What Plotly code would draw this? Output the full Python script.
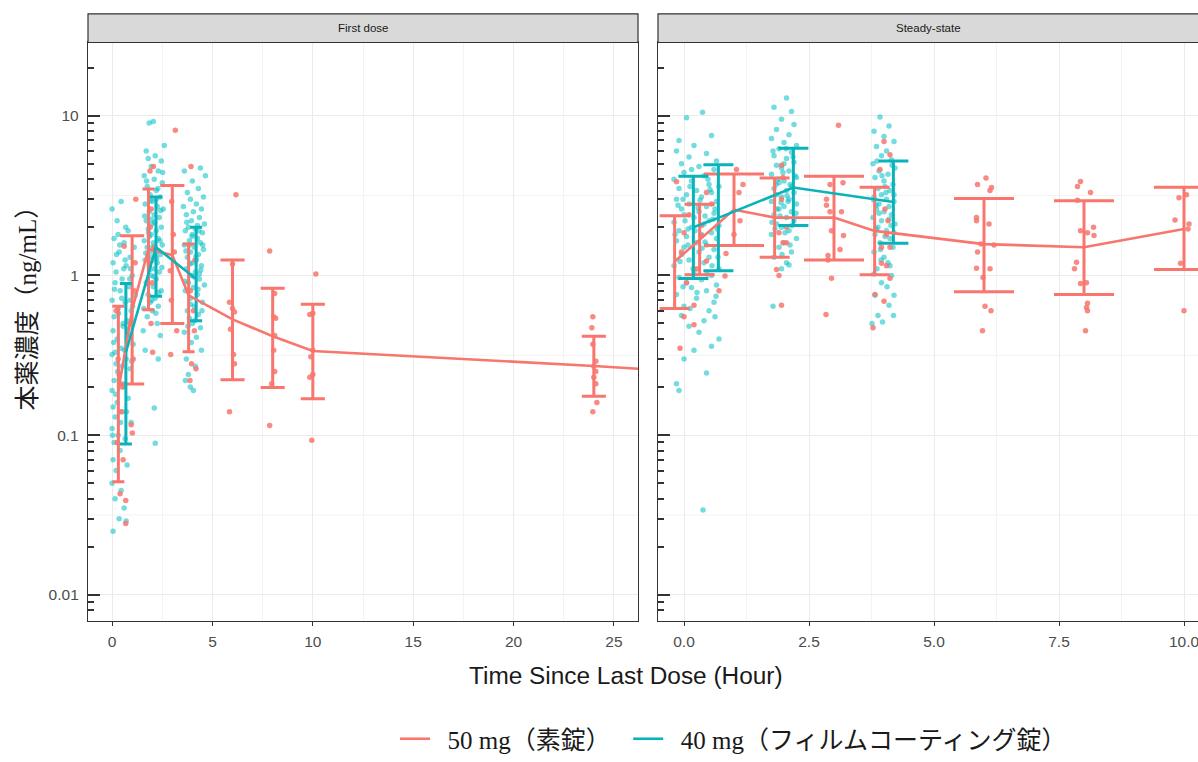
import math
import plotly.graph_objects as go

# ---------------- observed concentrations: (time since last dose [h], ng/mL) ----------------
# First dose, 40 mg film-coated tablet
fd_teal_early = [
    (0.00, 2.6), (0.45, 2.9), (0.25, 2.2), (0.80, 1.9), (0.10, 1.7), (0.60, 1.6), (1.10, 1.5), (0.35, 1.4), (0.90, 1.3), (0.05, 1.2),
    (0.70, 1.15), (0.20, 1.05), (1.00, 1.0), (0.50, 0.95), (0.15, 0.9), (0.85, 0.85), (0.40, 0.8), (1.15, 0.75), (0.00, 0.7), (0.65, 0.68),
    (0.30, 0.62), (0.95, 0.6), (0.10, 0.55), (0.75, 0.52), (0.55, 0.48), (0.05, 0.45), (0.85, 0.42), (0.25, 0.4), (1.05, 0.37), (0.45, 0.35),
    (0.00, 0.32), (0.70, 0.3), (0.20, 0.28), (0.90, 0.26), (0.35, 0.24), (0.10, 0.22), (0.60, 0.2), (0.00, 0.19), (0.80, 0.17), (0.25, 0.16),
    (0.05, 0.15), (0.50, 0.14), (0.15, 0.13), (0.95, 0.12), (0.00, 0.11), (0.30, 0.1), (0.65, 0.095), (0.10, 0.09), (0.40, 0.08), (0.05, 0.07),
    (0.75, 0.065), (0.20, 0.06), (0.00, 0.05), (0.45, 0.045), (0.15, 0.04), (0.60, 0.035), (0.35, 0.03), (0.70, 0.029), (0.05, 0.025), (0.55, 0.5),
    (0.65, 1.25), (0.30, 1.8), (0.90, 0.7), (0.15, 0.33), (0.50, 0.27),
    (0.22, 1.35), (0.58, 1.1), (0.88, 0.95), (0.12, 0.82), (0.48, 0.72), (1.02, 0.64), (0.32, 0.58), (0.78, 0.46), (0.08, 0.38), (0.62, 0.34),
    (0.98, 0.29), (0.28, 0.25), (0.52, 0.21), (0.18, 0.18), (0.72, 0.14), (0.42, 0.12), (0.02, 0.1), (0.38, 1.55), (0.68, 2.0), (0.92, 1.1),
]
fd_teal_2h = [
    (1.85, 9.0), (2.05, 9.2), (2.60, 6.5), (1.70, 6.0), (1.80, 5.4), (2.15, 5.6), (2.45, 5.2), (1.95, 4.8), (2.30, 4.5), (1.60, 4.2),
    (2.10, 4.0), (2.50, 3.8), (1.75, 3.6), (2.20, 3.4), (1.90, 3.2), (2.40, 3.1), (2.00, 2.9), (1.65, 2.8), (2.25, 2.7), (2.55, 2.6),
    (1.85, 2.5), (2.10, 2.4), (2.35, 2.3), (1.70, 2.2), (2.00, 2.1), (2.45, 2.0), (1.80, 1.95), (2.20, 1.9), (1.95, 1.8), (2.30, 1.7),
    (1.60, 1.65), (2.05, 1.6), (2.50, 1.55), (1.75, 1.5), (2.15, 1.45), (1.90, 1.4), (2.40, 1.35), (2.00, 1.3), (1.65, 1.25), (2.25, 1.2),
    (1.85, 1.15), (2.10, 1.1), (2.35, 1.05), (1.95, 1.0), (2.20, 0.95), (1.70, 0.9), (2.05, 0.85), (2.45, 0.8), (1.80, 0.76), (2.15, 0.72),
    (1.90, 0.68), (2.30, 0.64), (2.00, 0.6), (1.75, 0.55), (2.25, 0.5), (1.55, 0.45), (2.40, 0.42), (1.65, 0.34), (2.30, 0.3), (2.10, 0.148),
    (2.15, 0.089), (1.95, 2.25), (2.20, 3.0), (1.85, 1.75), (2.05, 1.25),
    (1.72, 3.9), (2.28, 3.5), (1.92, 2.95), (2.42, 2.55), (1.62, 2.35), (2.12, 2.15), (1.82, 1.85), (2.38, 1.65), (2.02, 1.5), (1.68, 1.38),
    (2.22, 1.28), (1.88, 1.08), (2.48, 1.12), (2.08, 0.98), (1.78, 0.88), (2.32, 0.78), (1.98, 0.7), (2.18, 0.58), (1.58, 0.62), (2.52, 4.4),
]
fd_teal_4h = [
    (4.40, 4.7), (4.65, 4.2), (3.60, 4.5), (4.00, 3.9), (4.30, 3.5), (3.75, 3.3), (4.55, 3.1), (3.90, 3.0), (4.20, 2.8), (3.55, 2.7),
    (4.45, 2.6), (4.05, 2.5), (3.70, 2.4), (4.35, 2.3), (3.95, 2.2), (4.60, 2.1), (3.80, 2.0), (4.15, 1.95), (3.65, 1.9), (4.50, 1.85),
    (4.00, 1.8), (4.25, 1.7), (3.85, 1.65), (4.40, 1.6), (3.60, 1.55), (4.10, 1.5), (4.55, 1.45), (3.90, 1.4), (4.30, 1.35), (3.75, 1.3),
    (4.20, 1.25), (4.00, 1.2), (4.45, 1.15), (3.70, 1.1), (4.15, 1.05), (3.95, 1.0), (4.35, 0.95), (3.80, 0.9), (4.60, 0.87), (4.05, 0.84),
    (3.65, 0.8), (4.25, 0.76), (3.90, 0.72), (4.50, 0.68), (4.10, 0.64), (3.75, 0.6), (4.30, 0.57), (3.85, 0.54), (4.00, 0.5), (4.40, 0.47),
    (3.60, 0.44), (4.20, 0.41), (3.95, 0.38), (4.45, 0.34), (3.70, 0.3), (4.15, 0.27), (3.80, 0.24), (3.65, 0.22), (4.05, 0.19), (3.90, 0.2),
    (4.25, 2.05), (3.85, 1.55), (4.35, 1.02),
    (3.72, 2.15), (4.32, 1.9), (3.98, 1.75), (4.52, 1.55), (3.68, 1.42), (4.18, 1.32), (3.88, 1.18), (4.42, 1.08), (4.08, 0.98), (3.62, 0.92),
    (4.28, 0.82), (3.92, 0.66), (4.48, 0.6), (4.12, 0.52), (3.78, 0.48),
]
# First dose, 50 mg plain tablet
fd_red_obs = [
    (0.20, 0.6), (0.45, 0.14), (0.40, 0.043), (0.68, 0.039), (0.68, 0.028), (0.30, 0.3), (0.50, 0.2), (0.25, 0.09), (0.55, 0.07),
    (1.18, 3.0), (0.60, 1.52), (0.95, 0.116), (1.01, 0.103), (1.10, 0.8), (0.90, 0.5), (1.05, 0.3), (1.15, 1.2),
    (2.06, 4.8), (1.89, 4.5), (1.94, 0.5), (2.02, 0.33), (1.90, 2.0), (2.10, 1.5), (1.85, 1.2), (2.00, 0.9), (1.95, 2.6),
    (3.15, 8.1), (2.97, 2.9), (2.90, 1.07), (3.22, 0.45), (2.92, 0.32), (3.05, 1.8), (3.10, 1.4), (2.95, 0.7),
    (3.93, 4.8), (4.13, 1.25), (3.96, 0.28), (4.18, 0.26), (3.88, 0.22), (4.05, 0.6), (3.90, 0.8), (4.10, 0.45),
    (6.17, 3.2), (6.00, 1.18), (5.85, 0.68), (6.00, 0.62), (6.10, 0.59), (5.90, 0.46), (6.05, 0.32), (6.10, 0.28), (5.85, 0.14),
    (7.85, 1.42), (8.10, 0.77), (8.15, 0.54), (8.05, 0.55), (8.10, 0.42), (8.05, 0.34), (8.10, 0.25), (7.95, 0.21), (7.85, 0.115),
    (10.15, 1.02), (9.85, 0.57), (10.00, 0.58), (10.00, 0.34), (9.90, 0.31), (9.85, 0.23), (10.00, 0.24), (9.95, 0.093),
    (23.95, 0.55), (23.90, 0.47), (23.95, 0.37), (24.10, 0.29), (24.00, 0.27), (24.10, 0.25), (24.00, 0.23), (24.10, 0.21), (24.15, 0.16), (23.95, 0.14),
]
# Steady state, 40 mg film-coated tablet
ss_teal_early = [
    (0.37, 10.5), (0.05, 9.7), (-0.10, 7.0), (0.55, 7.5), (0.20, 6.5), (-0.15, 6.0), (0.45, 5.8), (0.10, 5.5), (0.65, 5.2), (-0.05, 5.0),
    (0.30, 4.8), (0.60, 4.6), (0.00, 4.4), (0.40, 4.2), (-0.20, 4.0), (0.15, 3.9), (0.50, 3.7), (0.70, 3.6), (-0.10, 3.5), (0.25, 3.4),
    (0.55, 3.3), (0.05, 3.2), (0.35, 3.1), (-0.15, 3.0), (0.65, 2.9), (0.10, 2.8), (0.45, 2.7), (-0.05, 2.6), (0.30, 2.5), (0.60, 2.45),
    (0.00, 2.4), (0.20, 2.3), (0.50, 2.2), (-0.20, 2.15), (0.40, 2.1), (0.70, 2.05), (0.15, 2.0), (-0.10, 1.9), (0.55, 1.85), (0.35, 1.8),
    (0.05, 1.75), (0.65, 1.7), (-0.15, 1.65), (0.25, 1.6), (0.45, 1.55), (0.00, 1.5), (0.60, 1.45), (0.30, 1.4), (-0.05, 1.35), (0.50, 1.3),
    (0.10, 1.25), (0.40, 1.2), (-0.20, 1.15), (0.70, 1.1), (0.20, 1.05), (0.55, 1.0), (-0.10, 0.97), (0.35, 0.94), (0.05, 0.9), (0.65, 0.87),
    (0.15, 0.84), (0.45, 0.8), (-0.15, 0.76), (0.25, 0.72), (0.60, 0.68), (0.00, 0.64), (0.50, 0.6), (-0.05, 0.56), (0.40, 0.52), (0.10, 0.48),
    (0.30, 0.44), (0.70, 0.4), (0.55, 0.36), (0.20, 0.34), (0.45, 0.245), (-0.15, 0.21), (-0.10, 0.19), (0.38, 0.034), (0.00, 0.3), (0.62, 0.55),
    (0.15, 4.6), (0.48, 4.0), (-0.02, 3.0), (0.28, 2.65), (0.58, 2.25), (0.08, 1.95), (0.42, 1.62), (0.68, 1.3),
    (0.12, 3.6), (0.52, 3.45), (-0.12, 2.75), (0.32, 2.95), (0.62, 2.6), (0.02, 2.2), (0.42, 2.35), (-0.18, 1.8), (0.22, 1.9), (0.66, 1.95),
    (0.08, 1.55), (0.36, 1.48), (0.56, 1.15), (-0.08, 1.22), (0.18, 1.1), (0.46, 1.02), (-0.02, 0.85), (0.26, 0.78), (0.64, 0.74), (0.12, 0.62),
]
ss_teal_2h = [
    (2.05, 12.9), (1.80, 11.3), (2.15, 10.6), (1.95, 9.5), (2.20, 8.8), (1.85, 8.2), (2.10, 7.6), (1.75, 7.2), (2.00, 6.8), (2.25, 6.5),
    (1.90, 6.2), (2.15, 5.9), (1.80, 5.6), (2.05, 5.4), (2.20, 5.1), (1.85, 4.9), (1.95, 4.7), (2.10, 4.5), (1.75, 4.3), (2.25, 4.1),
    (2.00, 3.9), (1.90, 3.8), (2.15, 3.6), (1.80, 3.5), (2.05, 3.4), (2.20, 3.3), (1.85, 3.2), (1.95, 3.1), (2.10, 3.0), (1.75, 2.9),
    (2.25, 2.8), (2.00, 2.7), (1.90, 2.6), (2.15, 2.5), (1.80, 2.4), (2.05, 2.3), (2.20, 2.2), (1.85, 2.1), (1.95, 2.0), (2.10, 1.9),
    (1.75, 1.8), (2.25, 1.7), (2.00, 1.6), (1.90, 1.5), (2.15, 1.4), (1.80, 1.3), (2.05, 1.2), (1.95, 1.1), (2.10, 1.16), (1.78, 0.64),
    (2.00, 5.0), (1.88, 4.0), (2.12, 3.7), (1.92, 2.35), (2.08, 2.9), (1.82, 1.95),
    (1.78, 6.0), (2.18, 5.5), (1.98, 4.4), (2.22, 4.2), (1.84, 3.7), (2.06, 3.15), (1.94, 2.85), (2.16, 2.05), (1.86, 2.6), (2.02, 1.85),
    (2.24, 2.45), (1.76, 2.15), (2.12, 1.55), (1.96, 1.35), (2.04, 6.2),
]
ss_teal_4h = [
    (3.92, 9.8), (4.10, 8.6), (3.80, 8.0), (4.00, 7.4), (4.20, 6.9), (3.85, 6.4), (4.05, 6.0), (3.95, 5.6), (4.15, 5.3), (3.78, 5.0),
    (4.22, 4.7), (3.90, 4.5), (4.08, 4.3), (3.82, 4.1), (4.00, 3.9), (4.18, 3.7), (3.88, 3.5), (4.12, 3.4), (3.95, 3.2), (3.80, 3.1),
    (4.05, 3.0), (4.20, 2.9), (3.90, 2.8), (4.10, 2.7), (3.85, 2.6), (4.00, 2.5), (4.15, 2.4), (3.78, 2.3), (3.95, 2.2), (4.22, 2.1),
    (3.88, 2.0), (4.05, 1.9), (3.82, 1.8), (4.12, 1.7), (3.92, 1.6), (4.18, 1.5), (3.80, 1.4), (4.00, 1.3), (4.08, 1.2), (3.86, 1.1),
    (4.15, 1.0), (3.95, 0.9), (4.20, 0.75), (3.82, 0.75), (4.10, 0.65), (3.88, 0.56), (4.19, 0.56), (3.76, 0.5), (3.97, 0.51), (4.02, 3.6),
    (3.84, 2.75), (4.14, 2.05), (3.93, 1.45),
    (3.86, 5.2), (4.16, 4.9), (3.96, 4.2), (4.04, 3.3), (3.80, 2.95), (4.20, 3.2), (3.90, 2.45), (4.10, 2.25), (3.84, 1.95), (4.02, 1.75),
    (4.20, 1.85), (3.94, 1.25), (4.12, 1.15), (3.80, 1.02), (4.06, 0.85),
]
# Steady state, 50 mg plain tablet
ss_red_obs = [
    (-0.15, 3.85), (0.45, 3.3), (0.35, 2.05), (0.35, 1.77), (-0.05, 1.4), (0.00, 1.85), (0.45, 1.23), (0.05, 0.9), (0.00, 0.55),
    (0.20, 0.49), (0.20, 0.65), (0.70, 0.8), (0.82, 0.99), (-0.08, 0.35), (0.10, 2.4), (0.55, 2.8), (0.25, 1.1),
    (1.05, 4.6), (1.18, 3.7), (1.10, 3.3), (1.12, 2.2), (0.84, 1.37), (1.00, 1.8),
    (1.95, 4.9), (1.90, 1.85), (1.98, 1.6), (2.05, 1.6), (1.85, 1.09), (1.90, 1.0), (1.95, 0.65), (2.05, 2.0), (1.95, 3.0), (1.98, 4.1),
    (3.09, 8.7), (2.92, 3.7), (3.18, 3.8), (2.85, 3.0), (2.85, 2.75), (2.92, 2.5), (3.15, 2.5), (3.19, 1.78), (2.95, 1.9), (3.12, 1.45),
    (2.88, 1.33), (2.88, 1.25), (2.95, 0.96), (2.84, 0.57),
    (4.00, 6.9), (4.12, 5.7), (3.92, 4.6), (4.02, 2.6), (4.08, 2.2), (4.05, 1.8), (3.95, 1.5), (4.12, 1.5), (3.95, 1.19), (4.05, 1.15),
    (4.12, 0.96), (3.82, 0.76), (4.00, 0.69), (3.78, 0.47),
    (6.04, 4.07), (5.87, 3.7), (6.15, 3.55), (6.12, 3.4), (5.85, 2.3), (5.85, 2.2), (6.10, 2.1), (5.94, 1.57), (6.20, 1.55), (5.87, 1.4),
    (5.85, 1.11), (6.12, 1.1), (5.98, 0.97), (6.02, 0.64), (6.14, 0.6), (5.97, 0.45),
    (7.93, 3.87), (7.87, 3.6), (8.13, 3.3), (7.87, 2.95), (7.93, 1.9), (8.19, 2.0), (8.20, 1.78), (8.07, 1.85), (7.85, 1.21), (7.81, 1.1),
    (7.93, 0.89), (8.05, 0.9), (8.07, 0.67), (8.05, 0.63), (8.07, 0.6), (8.03, 0.45),
    (9.90, 3.06), (10.05, 3.2), (9.82, 2.22), (10.10, 2.1), (10.08, 1.95), (9.93, 1.19), (10.00, 0.6),
]

# ---------------- summary statistics at nominal sampling times ----------------
fd_red_time = [0.5, 1, 2, 3, 4, 6, 8, 10, 24, 48]
fd_red_mean = [0.19, 0.61, 1.46, 1.34, 0.75, 0.53, 0.416, 0.336, 0.271, 0.175]
fd_red_lo = [0.051, 0.209, 0.61, 0.50, 0.333, 0.222, 0.199, 0.169, 0.175, 0.10]
fd_red_hi = [0.64, 1.77, 3.48, 3.65, 1.57, 1.25, 0.83, 0.66, 0.416, 0.30]

fd_teal_time = [0.5, 2, 4]
fd_teal_mean = [0.33, 1.50, 0.95]
fd_teal_lo = [0.088, 0.74, 0.52]
fd_teal_hi = [0.89, 3.09, 2.0]

ss_red_time = [0, 0.5, 1, 2, 3, 4, 6, 8, 10]
ss_red_mean = [1.22, 1.68, 2.58, 2.30, 2.30, 1.90, 1.57, 1.50, 1.95]
ss_red_lo = [0.62, 1.01, 1.54, 1.30, 1.25, 1.01, 0.79, 0.76, 1.09]
ss_red_hi = [2.36, 2.79, 4.31, 4.07, 4.17, 3.56, 3.03, 2.93, 3.56]

ss_teal_time = [0, 0.5, 2, 4]
ss_teal_mean = [2.0, 2.29, 3.55, 2.88]
ss_teal_lo = [0.955, 1.07, 2.05, 1.59]
ss_teal_hi = [4.17, 4.92, 6.25, 5.21]

panel_titles = ["First dose", "Steady-state"]
x_ticks_fd = [0, 5, 10, 15, 20, 25]
x_ticks_ss = [0, 2.5, 5, 7.5, 10]
y_ticks = [0.01, 0.1, 1, 10]
name_red = "50 mg（素錠）"
name_teal = "40 mg（フィルムコーティング錠）"

# ---------------- styling / geometry ----------------
RED = "#F8766D"
TEAL = "#00BFC4"
TEAL_DARK = "#0AB3B9"
GRID = "#EBEBEB"
GRID_MINOR = "#F3F3F3"
FRAME = "#333333"
W, H = 1198, 762
L1, R1, L2, R2 = 88, 638, 658, 1198
TOP, BOT, STRIP_TOP = 43, 628, 14
X1_RANGE = [-1.2, 26.2]
X2_RANGE = [-0.52, 10.28]
Y_RANGE = [-2.161, 1.458]          # log10 units
DODGE = 0.1875                      # half of the group offset
CAP = 1.2                           # error-bar cap width (h)
SANS = "Liberation Sans, Arial, sans-serif"
SERIF = "Liberation Serif, Noto Sans CJK JP, serif"
NBSP = "\u00a0"


def pxx(v):
    return v / W


def pxy(v):
    return 1 - v / H


fig = go.Figure()

panels = [
    dict(xa="x", ya="y", xr=X1_RANGE, width=R1 - L1,
         red=(fd_red_obs, fd_red_time, fd_red_mean, fd_red_lo, fd_red_hi),
         teal=(fd_teal_early + fd_teal_2h + fd_teal_4h, fd_teal_time, fd_teal_mean, fd_teal_lo, fd_teal_hi)),
    dict(xa="x2", ya="y2", xr=X2_RANGE, width=R2 - L2,
         red=(ss_red_obs, ss_red_time, ss_red_mean, ss_red_lo, ss_red_hi),
         teal=(ss_teal_early + ss_teal_2h + ss_teal_4h, ss_teal_time, ss_teal_mean, ss_teal_lo, ss_teal_hi)),
]

for i, p in enumerate(panels):
    px_per_h = p["width"] / (p["xr"][1] - p["xr"][0])
    obs_r, t_r, m_r, lo_r, hi_r = p["red"]
    obs_t, t_t, m_t, lo_t, hi_t = p["teal"]

    # individual observations
    fig.add_trace(go.Scatter(
        x=[a for a, _ in obs_t], y=[b for _, b in obs_t], mode="markers",
        marker=dict(color=TEAL, size=5.5, opacity=0.55, line=dict(width=0)),
        xaxis=p["xa"], yaxis=p["ya"], showlegend=False, hoverinfo="skip"))
    fig.add_trace(go.Scatter(
        x=[a for a, _ in obs_r], y=[b for _, b in obs_r], mode="markers",
        marker=dict(color=RED, size=5.5, opacity=0.85, line=dict(width=0)),
        xaxis=p["xa"], yaxis=p["ya"], showlegend=False, hoverinfo="skip"))

    # dodged positions where both formulations were sampled
    xr_pos = [t - DODGE if t in t_t else t for t in t_r]
    xt_pos = [t + DODGE if t in t_r else t for t in t_t]

    groups = [
        (RED, xr_pos, m_r, lo_r, hi_r, [t in t_t for t in t_r]),
        (TEAL_DARK, xt_pos, m_t, lo_t, hi_t, [t in t_r for t in t_t]),
    ]
    for color, xs, ms, los, his, dodged in groups:
        for flag in (True, False):
            idx = [k for k in range(len(xs)) if dodged[k] == flag]
            if not idx:
                continue
            half_cap = (CAP / 2 if flag else CAP) * px_per_h / 2
            fig.add_trace(go.Scatter(
                x=[xs[k] for k in idx], y=[ms[k] for k in idx], mode="markers",
                marker=dict(size=1, color="rgba(0,0,0,0)"),
                error_y=dict(type="data", symmetric=False,
                             array=[his[k] - ms[k] for k in idx],
                             arrayminus=[ms[k] - los[k] for k in idx],
                             color=color, thickness=3, width=half_cap),
                xaxis=p["xa"], yaxis=p["ya"], showlegend=False, hoverinfo="skip"))

    # mean profiles
    fig.add_trace(go.Scatter(
        x=xr_pos, y=m_r, mode="lines", line=dict(color=RED, width=2.6),
        name=NBSP * 2 + name_red + NBSP * 2, legendgroup="red", legendrank=1, showlegend=(i == 0),
        xaxis=p["xa"], yaxis=p["ya"], hoverinfo="skip"))
    fig.add_trace(go.Scatter(
        x=xt_pos, y=m_t, mode="lines", line=dict(color=TEAL_DARK, width=2.6),
        name=NBSP * 2 + name_teal, legendgroup="teal", legendrank=2, showlegend=(i == 0),
        xaxis=p["xa"], yaxis=p["ya"], hoverinfo="skip"))

# half-decade grid lines (minor breaks of the log scale)
shapes = []
half_decades = [10 ** (d + 0.5) for d in range(-3, 2)]
for xa, ya in (("x", "y"), ("x2", "y2")):
    for v in half_decades:
        shapes.append(dict(type="line", xref=f"{xa} domain", yref=ya, x0=0, x1=1, y0=v, y1=v,
                           line=dict(color=GRID_MINOR, width=1), layer="below"))

# facet strips
for (l, r) in ((L1, R1), (L2, R2 + 6)):
    shapes.append(dict(type="rect", xref="paper", yref="paper",
                       x0=pxx(l), x1=pxx(r), y0=pxy(TOP), y1=pxy(STRIP_TOP),
                       fillcolor="#D9D9D9", line=dict(color=FRAME, width=1.2), layer="above"))

annotations = []
for (l, r), title in zip(((L1, R1), (L2, R2)), panel_titles):
    annotations.append(dict(text=title, x=pxx((l + r) / 2), y=pxy((TOP + STRIP_TOP) / 2),
                            xref="paper", yref="paper", showarrow=False,
                            font=dict(family=SANS, size=11.5, color="#1A1A1A"),
                            xanchor="center", yanchor="middle"))
annotations.append(dict(text="Time Since Last Dose (Hour)", x=pxx(626), y=pxy(684),
                        xref="paper", yref="paper", showarrow=False,
                        font=dict(family=SANS, size=24.4, color="#1A1A1A"),
                        xanchor="center", yanchor="middle"))
annotations.append(dict(text="本薬濃度（ng/mL）", x=pxx(27), y=pxy(306),
                        xref="paper", yref="paper", showarrow=False, textangle=-90,
                        font=dict(family=SERIF, size=25, color="#1A1A1A"),
                        xanchor="center", yanchor="middle"))

tickfont = dict(family=SANS, size=15.5, color="#4D4D4D")
xaxis_common = dict(showline=True, linecolor=FRAME, linewidth=1.3, ticks="outside", ticklen=4,
                    tickcolor=FRAME, tickwidth=1.2, showgrid=True, gridcolor=GRID, gridwidth=1.2,
                    zeroline=False, tickfont=tickfont, ticklabeloverflow="allow",
                    ticklabelstandoff=3)

# log ticks: long at decades, short at 2..9 multiples, drawn inside the panel
log_minor = [m * 10 ** d for d in range(-3, 2) for m in range(2, 10)
             if Y_RANGE[0] <= d + math.log10(m) <= Y_RANGE[1]]
yaxis_common = dict(showline=True, linecolor=FRAME, linewidth=1.3, type="log", range=Y_RANGE,
                    domain=[pxy(BOT), pxy(TOP)], ticks="inside", ticklen=12, tickcolor=FRAME,
                    tickwidth=1.6, showgrid=True, gridcolor=GRID, gridwidth=1.2, zeroline=False,
                    tickfont=tickfont, tickmode="array", tickvals=y_ticks, ticklabelstandoff=5,
                    minor=dict(tickmode="array", tickvals=log_minor, ticks="inside", ticklen=5.5,
                               tickwidth=1.6, tickcolor=FRAME, showgrid=False))

fig.update_layout(
    width=W, height=H, margin=dict(l=0, r=0, t=0, b=0),
    plot_bgcolor="white", paper_bgcolor="white",
    xaxis=dict(xaxis_common, domain=[pxx(L1), pxx(R1)], range=X1_RANGE, mirror=True,
               tickmode="array", tickvals=x_ticks_fd, ticktext=[str(v) for v in x_ticks_fd],
               minor=dict(dtick=2.5, tick0=0, showgrid=True, gridcolor=GRID_MINOR, gridwidth=1, ticks="")),
    xaxis2=dict(xaxis_common, domain=[pxx(L2), 1.0], range=X2_RANGE, mirror=True, anchor="y2",
                tickmode="array", tickvals=x_ticks_ss, ticktext=[f"{v:.1f}" for v in x_ticks_ss],
                minor=dict(dtick=1.25, tick0=0, showgrid=True, gridcolor=GRID_MINOR, gridwidth=1, ticks="")),
    yaxis=dict(yaxis_common, mirror=True, ticktext=[f"{v:g}" for v in y_ticks]),
    yaxis2=dict(yaxis_common, anchor="x2", showticklabels=False),
    shapes=shapes, annotations=annotations,
    legend=dict(orientation="h", x=pxx(395), xanchor="left", y=pxy(748), yanchor="middle",
                font=dict(family=SERIF, size=25, color="#1A1A1A"), bgcolor="rgba(0,0,0,0)",
                itemwidth=30, traceorder="normal"),
)

fig.write_html("out.html")
